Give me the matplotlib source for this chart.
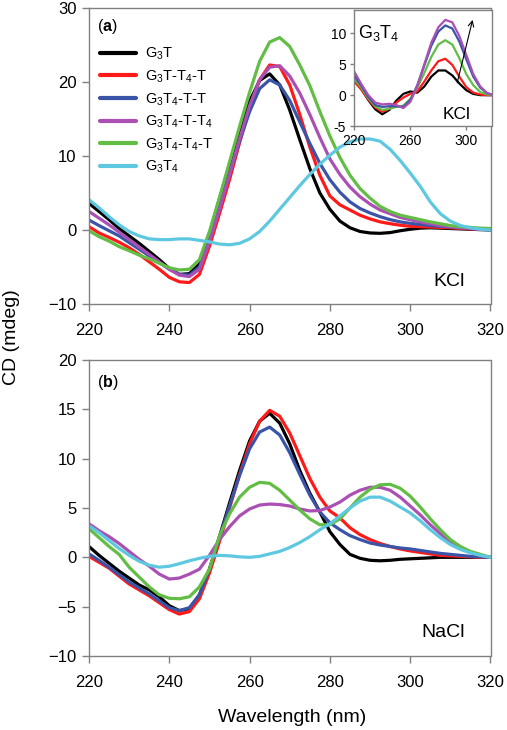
import numpy as np
import matplotlib
matplotlib.use("Agg")
import matplotlib.pyplot as plt

plt.rcParams['font.family'] = ['Liberation Sans', 'DejaVu Sans']
plt.rcParams['mathtext.fontset'] = 'custom'
plt.rcParams['mathtext.rm'] = 'Liberation Sans'
plt.rcParams['mathtext.it'] = 'Liberation Sans'
plt.rcParams['mathtext.bf'] = 'Liberation Sans:bold'

# ---------------- data ----------------
wavelength = [220, 222.5, 225, 227.5, 230, 232.5, 235, 237.5, 240, 242.5, 245, 247.5, 250,
              252.5, 255, 257.5, 260, 262.5, 265, 267.5, 270, 272.5, 275, 277.5, 280,
              282.5, 285, 287.5, 290, 292.5, 295, 297.5, 300, 302.5, 305, 307.5, 310,
              312.5, 315, 317.5, 320]

labels = ['G$_3$T', 'G$_3$T-T$_4$-T', 'G$_3$T$_4$-T-T', 'G$_3$T$_4$-T-T$_4$',
          'G$_3$T$_4$-T$_4$-T', 'G$_3$T$_4$']
colors = ['#000000', '#ff1a1a', '#3a54a8', '#aa50b4', '#62bd44', '#5ec8e0']

# (a) KCl
kcl_g3t = [3.6, 2.5, 1.4, 0.2, -0.8, -1.8, -2.9, -4.0, -5.2, -6.0, -5.9, -4.6, -0.5,
           4.2, 8.8, 13.3, 17.4, 20.2, 21.1, 19.6, 16.2, 12.2, 8.3, 5.0, 2.8,
           1.2, 0.3, -0.2, -0.4, -0.45, -0.35, -0.1, 0.1, 0.25, 0.3, 0.25, 0.2, 0.15, 0.1, 0.05, 0.0]
kcl_g3t_t4_t = [0.45, -0.4, -1.0, -1.65, -2.4, -3.3, -4.3, -5.3, -6.4, -7.0, -7.1, -6.0, -2.2,
                2.2, 6.8, 11.8, 16.5, 20.3, 22.3, 22.1, 19.6, 15.6, 11.2, 7.4, 4.6,
                3.4, 2.7, 2.0, 1.5, 1.1, 0.85, 0.65, 0.5, 0.45, 0.4, 0.35, 0.3, 0.2, 0.15, 0.1, 0.05]
kcl_g3t4_t_t = [1.35, 0.6, -0.1, -0.8, -1.7, -2.6, -3.5, -4.4, -5.3, -6.0, -6.1, -5.0, -1.2,
                3.0, 7.6, 12.0, 16.0, 19.1, 20.3, 19.6, 17.5, 14.6, 11.7, 9.0, 6.8,
                5.1, 3.8, 2.9, 2.3, 1.8, 1.4, 1.1, 0.9, 0.75, 0.6, 0.5, 0.4, 0.3, 0.2, 0.1, 0.05]
kcl_g3t4_t_t4 = [2.5, 1.6, 0.7, -0.3, -1.3, -2.3, -3.3, -4.3, -5.3, -6.1, -6.3, -5.3, -1.6,
                 2.8, 7.5, 12.3, 16.8, 20.3, 22.0, 22.2, 20.8, 18.5, 15.6, 12.5, 9.6,
                 7.5, 5.8, 4.5, 3.5, 2.7, 2.2, 1.7, 1.4, 1.1, 0.85, 0.6, 0.45, 0.3, 0.2, 0.1, 0.05]
kcl_g3t4_t4_t = [-0.1, -0.9, -1.5, -2.25, -2.8, -3.4, -3.9, -4.5, -5.1, -5.4, -5.3, -4.0, -0.2,
                 4.4, 9.2, 14.0, 18.6, 22.8, 25.4, 26.0, 24.8, 22.3, 19.5, 16.0, 12.7,
                 9.8, 7.4, 5.6, 4.3, 3.2, 2.5, 2.0, 1.7, 1.4, 1.1, 0.85, 0.6, 0.45, 0.35, 0.25, 0.2]
kcl_g3t4 = [4.1, 3.0, 1.8, 0.7, -0.2, -0.8, -1.2, -1.3, -1.3, -1.2, -1.2, -1.4, -1.6,
            -1.9, -2.0, -1.8, -1.2, -0.2, 1.2, 2.8, 4.4, 6.0, 7.5, 8.9, 10.1,
            11.2, 11.9, 12.3, 12.3, 12.0, 10.9, 9.4, 7.7, 5.9, 3.8, 2.2, 1.2, 0.6, 0.3, 0.1, 0.0]

# (b) NaCl
nacl_g3t = [1.1, 0.2, -0.6, -1.4, -2.1, -2.8, -3.3, -4.0, -4.9, -5.4, -5.2, -3.8, -1.2,
            2.1, 5.5, 8.8, 11.8, 13.8, 14.6, 13.6, 11.5, 8.8, 6.5, 4.6, 2.6,
            1.3, 0.3, -0.1, -0.3, -0.35, -0.3, -0.2, -0.15, -0.1, -0.05, 0.0, 0.0, 0.0, 0.0, 0.0, 0.0]
nacl_g3t_t4_t = [0.1, -0.5, -1.1, -1.9, -2.7, -3.3, -3.9, -4.6, -5.3, -5.75, -5.5, -4.2, -1.6,
                 1.6, 5.0, 8.4, 11.5, 13.8, 14.9, 14.3, 12.6, 10.3, 8.0, 6.1, 4.7,
                 4.0, 3.0, 2.3, 1.8, 1.4, 1.1, 0.85, 0.65, 0.5, 0.35, 0.2, 0.15, 0.1, 0.05, 0.0, 0.0]
nacl_g3t4_t_t = [0.35, -0.3, -1.0, -1.75, -2.5, -3.1, -3.7, -4.4, -5.1, -5.4, -5.1, -3.8, -1.2,
                 2.0, 5.2, 8.3, 11.0, 12.7, 13.2, 12.4, 10.6, 8.4, 6.3, 4.6, 3.5,
                 2.8, 2.2, 1.8, 1.45, 1.25, 1.1, 0.95, 0.85, 0.7, 0.55, 0.4, 0.3, 0.2, 0.1, 0.05, 0.0]
nacl_g3t4_t_t4 = [3.4, 2.7, 2.1, 1.4, 0.6, -0.2, -0.9, -1.7, -2.2, -2.1, -1.7, -1.2, 0.2,
                  1.8, 3.1, 4.2, 4.9, 5.3, 5.4, 5.35, 5.2, 4.9, 4.7, 4.75, 5.1,
                  5.6, 6.3, 6.8, 7.1, 7.1, 6.8, 6.1, 5.2, 4.3, 3.3, 2.4, 1.5, 0.9, 0.5, 0.2, 0.0]
nacl_g3t4_t4_t = [2.9, 2.0, 1.1, 0.3, -1.0, -2.0, -3.0, -3.8, -4.15, -4.2, -4.0, -3.0, -1.2,
                  2.2, 4.4, 6.1, 7.1, 7.6, 7.5, 6.8, 5.8, 4.8, 3.9, 3.3, 3.3,
                  3.9, 5.0, 6.1, 6.9, 7.35, 7.4, 7.0, 6.2, 5.1, 3.9, 2.8, 1.8, 1.1, 0.6, 0.3, 0.0]
nacl_g3t4 = [3.2, 2.5, 1.7, 0.9, 0.2, -0.4, -0.8, -1.0, -0.9, -0.65, -0.35, -0.1, 0.1,
             0.2, 0.15, 0.05, 0.0, 0.1, 0.35, 0.6, 1.0, 1.5, 2.1, 2.8, 3.4,
             4.2, 5.0, 5.7, 6.1, 6.1, 5.7, 5.1, 4.5, 3.7, 2.8, 2.0, 1.3, 0.8, 0.45, 0.2, 0.0]

# inset: G3T4 with increasing KCl
inset_wavelength = [220, 225, 230, 235, 240, 245, 250, 255, 260, 265, 270, 275, 280,
                    285, 290, 295, 300, 305, 310, 315, 320]
inset_colors = ['#000000', '#ff1a1a', '#62bd44', '#3a54a8', '#aa50b4']
inset_1 = [2.4, 1.0, -0.8, -2.3, -3.1, -2.4, -0.9, 0.2, 0.6, 0.4, 1.4, 3.0, 4.0,
           4.0, 3.2, 1.9, 0.8, 0.2, 0.0, 0.0, 0.0]
inset_2 = [2.2, 0.9, -0.7, -2.0, -2.7, -2.2, -1.2, -0.4, 0.2, 0.6, 2.2, 4.0, 5.5,
           5.9, 4.9, 3.0, 1.3, 0.4, 0.1, 0.0, 0.0]
inset_3 = [2.7, 1.2, -0.5, -1.8, -2.4, -2.2, -1.9, -1.7, -0.6, 1.2, 3.6, 6.2, 8.2,
           8.9, 8.2, 6.0, 3.4, 1.6, 0.5, 0.1, 0.0]
inset_4 = [3.2, 1.5, -0.3, -1.6, -1.9, -1.8, -1.8, -1.9, -0.8, 1.6, 4.8, 8.0, 10.3,
           11.3, 10.8, 8.7, 5.8, 3.0, 1.2, 0.3, 0.0]
inset_5 = [3.8, 1.8, 0.0, -1.2, -1.5, -1.4, -1.6, -2.1, -1.1, 1.5, 5.0, 8.5, 11.0,
           12.2, 11.8, 9.6, 6.5, 3.4, 1.4, 0.3, 0.0]

kcl_series = [kcl_g3t, kcl_g3t_t4_t, kcl_g3t4_t_t, kcl_g3t4_t_t4, kcl_g3t4_t4_t, kcl_g3t4]
nacl_series = [nacl_g3t, nacl_g3t_t4_t, nacl_g3t4_t_t, nacl_g3t4_t_t4, nacl_g3t4_t4_t, nacl_g3t4]
inset_series = [inset_1, inset_2, inset_3, inset_4, inset_5]

# ---------------- figure ----------------
W, H = 507, 730
fig = plt.figure(figsize=(W / 100, H / 100), dpi=100)
spine_c = '#808080'

def fr(l, t, r, b):
    return [l / W, 1 - b / H, (r - l) / W, (b - t) / H]

ax1 = fig.add_axes(fr(89, 8, 490.5, 304))
ax2 = fig.add_axes(fr(89, 360, 490.5, 656))

def style(ax, ylim, yticks):
    ax.set_xlim(220, 320)
    ax.set_ylim(*ylim)
    ax.set_xticks([220, 240, 260, 280, 300, 320])
    ax.set_yticks(yticks)
    for s in ax.spines.values():
        s.set_color(spine_c)
        s.set_linewidth(1.0)
    ax.tick_params(direction='out', length=5, width=1, color=spine_c,
                   labelsize=12, pad=4, top=False, right=False)

style(ax1, (-10, 30), [-10, 0, 10, 20, 30])
style(ax2, (-10, 20), [-10, -5, 0, 5, 10, 15, 20])
ax1.tick_params(axis='x', pad=9)
ax2.tick_params(axis='x', pad=9)

lw = 2.3
for y, c, lab in zip(kcl_series, colors, labels):
    ax1.plot(wavelength, y, color=c, lw=lw, label=lab,
             solid_capstyle='round', solid_joinstyle='round')
for y, c in zip(nacl_series, colors):
    ax2.plot(wavelength, y, color=c, lw=lw,
             solid_capstyle='round', solid_joinstyle='round')

leg = ax1.legend(loc='upper left', bbox_to_anchor=(0.005, 0.901), frameon=False,
                 fontsize=10.5, handlelength=2.5, handletextpad=0.6,
                 labelspacing=0.42, borderaxespad=0.2)
for h in leg.get_lines():
    h.set_linewidth(3.0)

ax1.text(0.02, 0.938, r'($\mathbf{a}$)', transform=ax1.transAxes, fontsize=11.5,
         va='center', ha='left')
ax2.text(0.02, 0.925, r'($\mathbf{b}$)', transform=ax2.transAxes, fontsize=11.5,
         va='center', ha='left')
ax1.text(0.936, 0.075, 'KCl', transform=ax1.transAxes, fontsize=14,
         ha='right', va='center')
ax2.text(0.936, 0.08, 'NaCl', transform=ax2.transAxes, fontsize=14,
         ha='right', va='center')

fig.text(12 / W, 1 - 337 / H, 'CD (mdeg)', rotation=90, fontsize=14,
         ha='center', va='center')
fig.text(292 / W, 1 - 717 / H, 'Wavelength (nm)', fontsize=14,
         ha='center', va='center')

# inset
axi = fig.add_axes(fr(354.3, 10, 491.5, 126))
axi.set_xlim(220, 318)
axi.set_ylim(-5, 13.8)
for y, c in zip(inset_series, inset_colors):
    axi.plot(inset_wavelength, y, color=c, lw=1.6, solid_joinstyle='round')
axi.set_xticks([220, 260, 300])
axi.set_yticks([-5, 0, 5, 10])
axi.set_yticklabels(['-5', '0', '5', '10'])
for s in axi.spines.values():
    s.set_color(spine_c)
    s.set_linewidth(1.0)
axi.tick_params(direction='out', length=3, width=1, color=spine_c,
                labelsize=10, pad=3, top=False, right=False)
axi.text(0.03, 0.8, 'G$_3$T$_4$', transform=axi.transAxes, fontsize=13,
         ha='left', va='center')
axi.text(0.745, 0.1, 'KCl', transform=axi.transAxes, fontsize=12.5,
         ha='center', va='center')
axi.annotate('', xy=(304.5, 12.2), xytext=(293.5, 2.0),
             arrowprops=dict(arrowstyle='->', lw=0.8, color='black',
                             shrinkA=0, shrinkB=0))

fig.savefig('out.png', dpi=100)
